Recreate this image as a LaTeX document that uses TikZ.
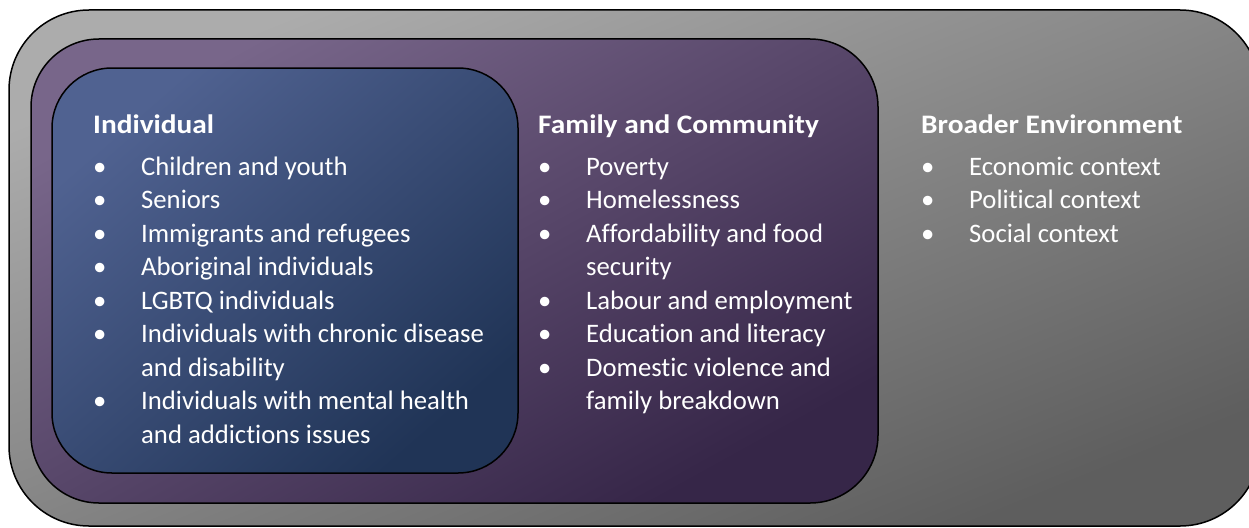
\documentclass[tikz,border=0pt]{standalone}
\usepackage{fontspec}
\setmainfont{Carlito}[Ligatures={NoCommon}]
\usetikzlibrary{positioning}
\definecolor{greyhi}{RGB}{172,172,172}
\definecolor{greylo}{RGB}{94,94,94}
\definecolor{purphi}{RGB}{120,102,138}
\definecolor{purplo}{RGB}{54,38,72}
\definecolor{bluehi}{RGB}{80,98,145}
\definecolor{bluelo}{RGB}{32,52,86}
\newcommand{\colhead}[1]{\scalebox{1.1}[1]{\textbf{#1}}}
\newcommand{\bulitem}[1]{\makebox[48pt][l]{\textbullet}#1}
\newcommand{\contline}[1]{\makebox[48pt]{}#1}

\begin{document}
\begin{tikzpicture}[x=1pt,y=-1pt,
	frame/.style={draw=black,line width=1.5pt},
	coltext/.style={anchor=base west,inner sep=0pt,text=white,
		font=\fontsize{26.7}{33.5}\selectfont}]
	\useasboundingbox (0,0) rectangle (1249,527);
	% nested boxes
	\shade[frame,rounded corners=80pt,top color=greyhi,bottom color=greylo,shading angle=22] (9,10) rectangle (1260,526);
	\shade[frame,rounded corners=68pt,top color=purphi,bottom color=purplo,shading angle=29] (31,39) rectangle (878,503);
	\shade[frame,rounded corners=60pt,top color=bluehi,bottom color=bluelo,shading angle=41] (52,68) rectangle (518,473);
	% columns
	\node[coltext] (indiv) at (93,133) {\begin{tabular}[t]{@{}l@{}}
		\colhead{Individual}\\[8.5pt]
		\bulitem{Children and youth}\\
		\bulitem{Seniors}\\
		\bulitem{Immigrants and refugees}\\
		\bulitem{Aboriginal individuals}\\
		\bulitem{LGBTQ individuals}\\
		\bulitem{Individuals with chronic disease}\\
		\contline{and disability}\\
		\bulitem{Individuals with mental health}\\
		\contline{and addictions issues}
	\end{tabular}};
	\node[coltext] (family) at (538,133) {\begin{tabular}[t]{@{}l@{}}
		\colhead{Family and Community}\\[8.5pt]
		\bulitem{Poverty}\\
		\bulitem{Homelessness}\\
		\bulitem{Affordability and food}\\
		\contline{security}\\
		\bulitem{Labour and employment}\\
		\bulitem{Education and literacy}\\
		\bulitem{Domestic violence and}\\
		\contline{family breakdown}
	\end{tabular}};
	\node[coltext] (broad) at (921,133) {\begin{tabular}[t]{@{}l@{}}
		\colhead{Broader Environment}\\[8.5pt]
		\bulitem{Economic context}\\
		\bulitem{Political context}\\
		\bulitem{Social context}
	\end{tabular}};
\end{tikzpicture}
\end{document}
